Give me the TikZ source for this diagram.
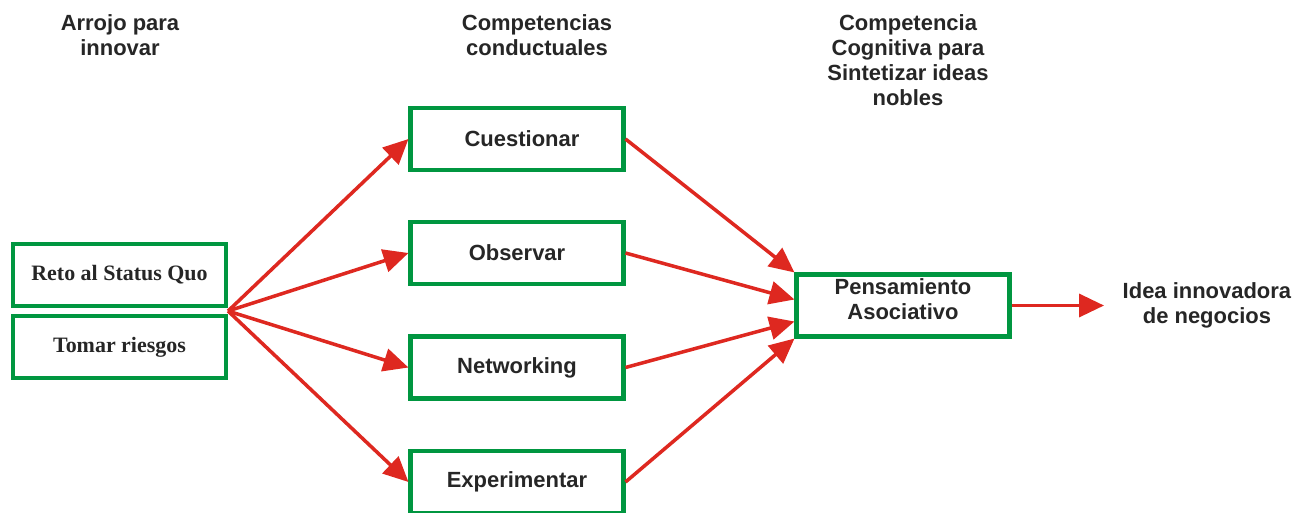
\documentclass[tikz,border=0pt]{standalone}
\usepackage{fontspec}
\setmainfont{Liberation Sans}
\newfontfamily\timesfont{Liberation Serif}
\usepackage{tikz}
\usetikzlibrary{positioning}
\usetikzlibrary{calc}
\usetikzlibrary{arrows.meta}
\definecolor{boxgreen}{RGB}{0,150,64}
\definecolor{arrowred}{RGB}{222,40,32}
\tikzstyle{block} = [draw=boxgreen, line width=2.3pt, minimum width=4.26cm, minimum height=1.24cm, 
inner sep=0pt, font=\fontsize{12.5}{14.2}\selectfont\bfseries, text=black!85]
\tikzstyle{serifblock} = [block, font=\fontsize{12.5}{14}\selectfont\timesfont\bfseries]
\tikzstyle{title} = [align=center, font=\fontsize{12.5}{14.2}\selectfont\bfseries, text=black!85]
\tikzstyle{line} = [draw, 
-{Triangle[length=0.5cm, width=0.46cm]}, 
color=arrowred, line width=2pt]

\begin{document}
\begin{tikzpicture}
    \useasboundingbox (0,0) rectangle (26.08,-10.24);
    %% Titles
    \node [title] (T1) at (2.4,-0.7) {Arrojo para\\innovar};
    \node [title] (T2) at (10.74,-0.7) {Competencias\\conductuales};
    \node [title] (T3) at (18.16,-1.2) {Competencia\\Cognitiva para\\Sintetizar ideas\\nobles};
    %% Boxes
    \node [serifblock] (R) at (2.39,-5.5) {Reto al Status Quo};
    \node [serifblock, below=0.12cm of R] (T) {Tomar riesgos};
    \coordinate (S) at ($(R.south east)!0.5!(T.north east)$);
    \node [block] (C) at (10.34,-2.78) {\hspace{0.2cm}Cuestionar};
    \node [block] (O) at (10.34,-5.06) {Observar\hspace{0.18cm}};
    \node [block] (N) at (10.34,-7.35) {Networking};
    \node [block] (E) at (10.34,-9.64) {Experimentar};
    \node [block, label={[title, yshift=0.12cm]center:Pensamiento\\Asociativo}] (P) at (18.06,-6.11) {};
    \node [title, right=2.1cm of P.east, anchor=west] (I) {Idea innovadora\\de negocios};
    %% Flows
    \path [line] (S) -- (C.west);
    \path [line] (S) -- (O.west);
    \path [line] (S) -- (N.west);
    \path [line] (S) -- (E.west);
    \path [line] (C.east) -- (P.north west);
    \path [line] (O.east) -- ([yshift=0.12cm]P.west);
    \path [line] (N.east) -- ([yshift=-0.32cm]P.west);
    \path [line] (E.east) -- (P.south west);
    \path [line] (P.east) -- ([xshift=1.85cm]P.east);
  \end{tikzpicture}
\end{document}
